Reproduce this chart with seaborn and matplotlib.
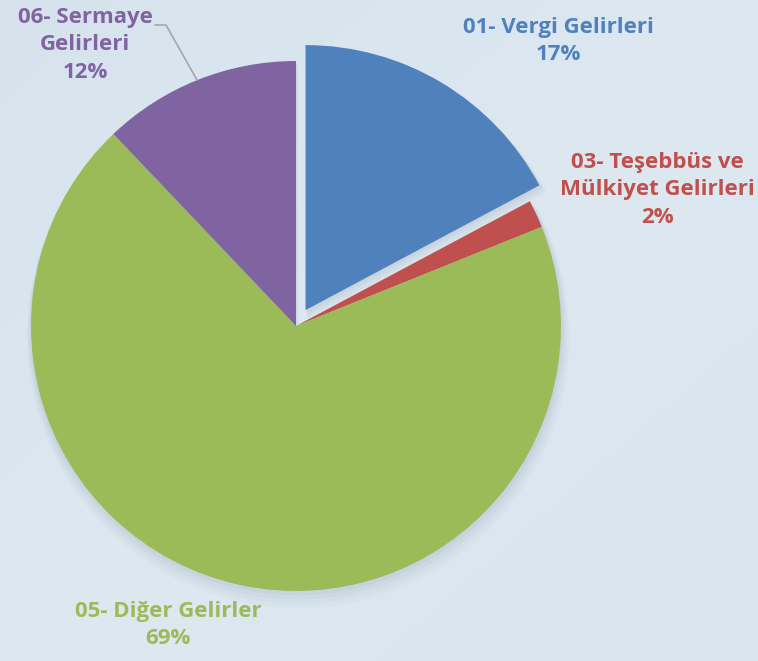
import numpy as np
import pandas as pd
import seaborn as sns
import matplotlib.pyplot as plt

# data (shares in percent)
categories = ["01- Vergi Gelirleri", "03- Teşebbüs ve\nMülkiyet Gelirleri",
              "05- Diğer Gelirler", "06- Sermaye\nGelirleri"]
shares = [17.2, 1.7, 69.0, 12.1]
colors = ["#4f81bd", "#c0504d", "#9bbb59", "#8064a2"]
explode = [0.07, 0, 0, 0]

df = pd.DataFrame({"kalem": categories, "pay": shares})

sns.set_theme(style="white")
plt.rcParams["font.family"] = ["Open Sans", "DejaVu Sans"]

W, H = 758, 661
R, CX, CY = 265.0, 296.0, 326.0   # pie radius / centre in pixels


def px(x, y):
    # pixel position -> data coords of the pie axes
    return (x - CX) / R, (CY - y) / R


fig = plt.figure(figsize=(W / 100, H / 100), dpi=100)

# background gradient
bg = fig.add_axes([0, 0, 1, 1])
yy, xx = np.mgrid[0:1:200j, 0:1:200j]
grad = 0.5 * xx + 0.5 * yy
bg.imshow(grad, cmap=sns.blend_palette(["#d6e3ed", "#dde8f1", "#d9e5ef"], as_cmap=True),
          aspect="auto", extent=[0, 1, 0, 1])
bg.axis("off")

ax = fig.add_axes([0, 0, 1, 1])
ax.set_facecolor("none")

# soft shadow under the pie, mostly towards the bottom
for i, a in enumerate([0.03, 0.04, 0.05, 0.06]):
    k = 4 - i
    ax.pie(df["pay"], startangle=90, counterclock=False, explode=explode,
           colors=["#6f7f90"] * 4, radius=1.0 + 0.006 * k,
           center=(0.002 * k, -0.01 * k),
           wedgeprops=dict(alpha=a, linewidth=0))

ax.pie(df["pay"], startangle=90, counterclock=False, explode=explode,
       colors=colors, radius=1.0, wedgeprops=dict(linewidth=0))

ax.set_xlim(-CX / R, (W - CX) / R)
ax.set_ylim(-(H - CY) / R, CY / R)
ax.set_aspect("auto")
ax.axis("off")

# labels
label_pos = [(558, 41), (657, 190), (168, 625), (85, 45)]
for name, val, col, (lx, ly) in zip(df["kalem"], df["pay"], colors, label_pos):
    x, y = px(lx, ly)
    ax.text(x, y, f"{name}\n{val:.0f}%", color=col, fontsize=16, fontweight="bold",
            ha="center", va="center", linespacing=1.42)

# leader line for Sermaye
lx, ly = zip(px(155, 25), px(166, 25), px(197, 80))
ax.plot(lx, ly, color="#a6a6a6", lw=1.2)

fig.savefig("out.png", dpi=100)
